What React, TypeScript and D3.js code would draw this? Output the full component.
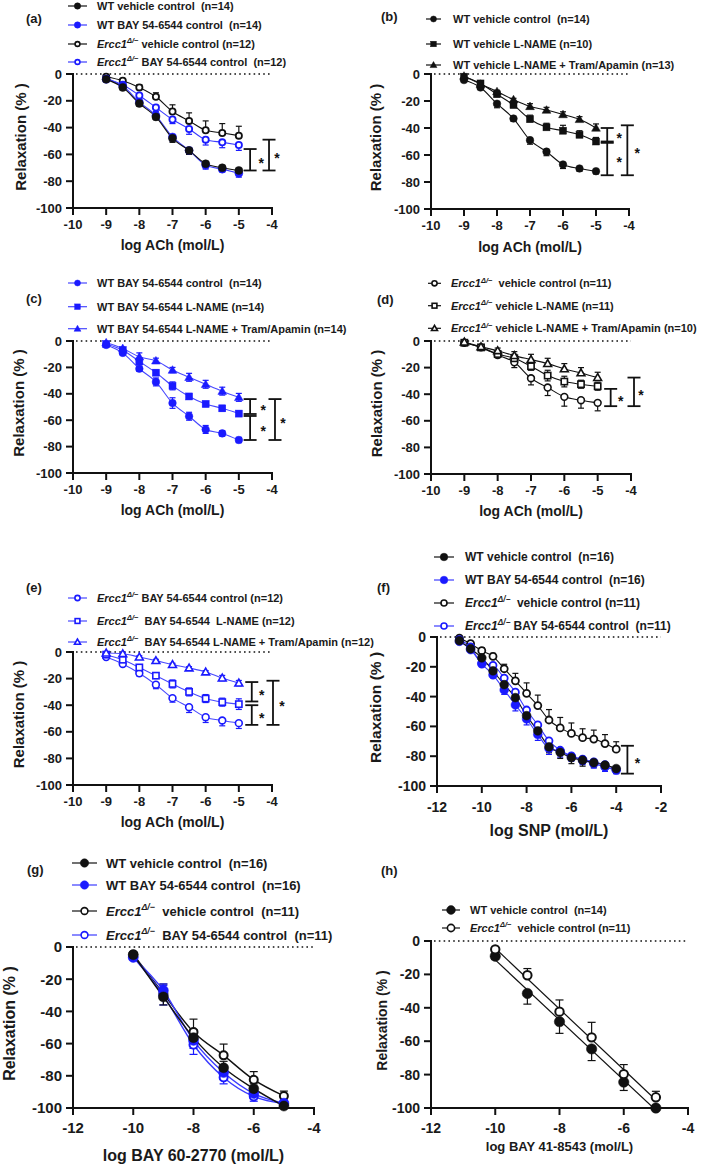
import React from 'react';
import * as d3 from 'd3';

const FONT = '"Liberation Sans", Arial, Helvetica, sans-serif';
const BLACK = '#111111';
const BLUE = '#1a1aff';
const BLUE2 = '#3b3bff';
const TEXT = '#1a1a1a';

// ---------- data ----------
const xAch = [-9, -8.5, -8, -7.5, -7, -6.5, -6, -5.5, -5];
const xSnp = [-11, -10.5, -10, -9.5, -9, -8.5, -8, -7.5, -7, -6.5, -6, -5.5, -5, -4.5, -4];
const xBay60 = [-10, -9, -8, -7, -6, -5];
const xBay41 = [-10, -9, -8, -7, -6, -5];

const ticksAch = [-10, -9, -8, -7, -6, -5, -4];
const ticksSnp = [-12, -10, -8, -6, -4, -2];
const ticksBay = [-12, -10, -8, -6, -4];
const ticksY = [0, -20, -40, -60, -80, -100];

// (a)
const aWtVeh = [-4, -10, -22, -32, -48, -57, -67, -70, -72];
const aWtVehErr = [1, 1, 2, 2, 3, 3, 3, 2, 2];
const aWtBay = [-4, -9, -21, -31, -47, -57, -68, -71, -74];
const aWtBayErr = [1, 1, 2, 2, 3, 3, 3, 2, 3];
const aErVeh = [-2, -5, -10, -17, -28, -35, -42, -44, -46];
const aErVehErr = [1, 1, 2, 3, 5, 6, 7, 7, 7];
const aErBay = [-3.5, -8, -16, -25, -34, -41, -49, -51, -53];
const aErBayErr = [1, 1, 2, 3, 3, 4, 4, 4, 4];
// (b)
const bWtVeh = [-4.5, -10, -22, -33, -49, -57.5, -67, -70, -72];
const bWtVehErr = [1, 1, 3, 2, 3, 3, 3, 2, 2];
const bLname = [-2, -7, -15, -23, -33.5, -39.5, -42, -45, -50];
const bLnameErr = [1, 1, 2, 2, 3, 3, 4, 3, 3];
const bTram = [-1.5, -7.5, -13, -19, -24, -26.7, -30, -33.6, -40];
const bTramErr = [0.5, 1, 1, 1, 2, 2, 2, 2, 3];
// (c)
const cBay = [-3, -9, -21, -31, -47, -57, -67, -70, -75];
const cBayErr = [1, 1, 2, 3, 4, 3, 3, 2, 2];
const cLname = [-2.3, -7, -15.5, -24, -34, -42, -47.7, -51, -55];
const cLnameErr = [1, 1, 2, 2, 3, 2, 2, 2, 2];
const cTram = [-1.3, -5.6, -12, -15, -22, -27.5, -32.8, -38, -42.7];
const cTramErr = [1, 1, 3, 2, 2, 3, 3, 3, 3];
// (d)
const dVeh = [-1.3, -4.8, -10.5, -16, -28, -35, -42, -44.5, -46.5];
const dVehErr = [1, 1, 2, 4, 5, 6, 7, 6, 6];
const dLname = [-1.3, -4.8, -9.8, -13, -19, -26, -30.5, -32.5, -34];
const dLnameErr = [1, 1, 2, 3, 3, 4, 4, 3, 3];
const dTram = [-0.8, -4.3, -7.3, -11, -14, -17, -21, -24, -27.5];
const dTramErr = [1, 1, 2, 3, 4, 4, 4, 4, 4];
// (e)
const eBay = [-3.8, -9, -16, -24.6, -34.7, -41.5, -49, -51.5, -53.5];
const eBayErr = [1, 1, 2, 3, 3, 4, 4, 4, 4];
const eLname = [-2, -5.8, -11.6, -17.8, -24, -30, -35, -37.7, -39.2];
const eLnameErr = [1, 1, 2, 2, 3, 3, 3, 3, 4];
const eTram = [-0.8, -1.3, -3.8, -6.5, -9.5, -12, -15, -19.6, -23.4];
const eTramErr = [1, 1, 1, 1, 1, 1, 1, 2, 2];
// (f)
const fWtVeh = [-2.5, -7.9, -14, -22.7, -32, -40.7, -52.8, -63, -73.7, -77.5, -81, -82.7, -84.3, -86, -88.3];
const fWtVehErr = [1, 1, 2, 2, 3, 3, 4, 4, 4, 4, 4, 4, 3, 3, 3];
const fWtBay = [-2.9, -8.5, -18, -25.4, -35.5, -45.6, -55, -65.4, -74.8, -76.6, -80.4, -82.7, -85, -87.2, -89.4];
const fWtBayErr = [1, 1, 2, 2, 3, 4, 4, 4, 4, 4, 3, 3, 3, 3, 2];
const fErVeh = [-0.7, -4.5, -9.2, -13, -21.3, -29.4, -37.8, -46, -55.7, -61, -64.7, -67.6, -68.5, -71.5, -75.3];
const fErVehErr = [1, 1, 2, 2, 3, 5, 7, 7, 7, 7, 7, 6, 6, 6, 5];
const fErBay = [-1.8, -6.7, -17.5, -19, -27.6, -37, -49, -59, -69.7, -76, -79.8, -82, -83.8, -85.6, -88.8];
const fErBayErr = [1, 1, 2, 2, 3, 4, 4, 4, 3, 3, 3, 3, 3, 3, 3];
// (g)
const gWtVeh = [-4.8, -31, -56.3, -75, -88, -98.8];
const gWtVehErr = [1, 5, 5, 4, 3, 2];
const gWtBay = [-6.5, -27, -58, -78, -91, -97];
const gWtBayErr = [1, 4, 5, 4, 3, 2];
const gErVeh = [-4.6, -29, -52.8, -67.3, -82.4, -92.5];
const gErVehErr = [1, 6, 8, 7, 5, 3];
const gErBay = [-6.2, -30, -60.7, -81, -92.8, -97.3];
const gErBayErr = [1, 6, 6, 4, 3, 2];
// (h)
const hWt = [-9.1, -31.4, -48.3, -64.6, -84.5, -100];
const hWtErr = [2, 6.4, 7, 7, 5, 1];
const hEr = [-5, -20.5, -42.3, -57.7, -79.7, -93.6];
const hErErr = [1, 4, 7, 9, 5.7, 3.6];

// ---------- types ----------
type Shape = 'circle' | 'square' | 'triangle';
type Dir = 'up' | 'down' | 'both';
interface Series {
  label: string; ercc: boolean; color: string; shape: Shape; filled: boolean;
  x: number[]; y: number[]; err: number[]; dir: Dir;
}
interface Bracket { x: number; y1: number; y2: number; starDx: number }
interface Legend { lx1: number; lx2: number; tx: number; ys: number[]; fs: number; r: number; order: number[] }
interface Panel {
  tag: string; tagX: number; tagY: number;
  x0: number; x1: number; y0: number; y1: number;
  domain: [number, number]; ticks: number[]; xTitle: string;
  series: Series[]; brackets: Bracket[]; legend: Legend;
  tickFs: number; titleFs: number; yTitleFs: number; yTitleDx: number;
  xTickDy: number; xTitleDy: number; r: number; sw: number; lw: number; lineColorBlue: string; fit: 'curve' | 'linear';
}

const S = (label: string, ercc: boolean, color: string, shape: Shape, filled: boolean,
  x: number[], y: number[], err: number[], dir: Dir): Series => ({ label, ercc, color, shape, filled, x, y, err, dir });

const panels: Panel[] = [
  {
    tag: '(a)', tagX: 26, tagY: 18, x0: 73, x1: 272, y0: 74, y1: 208,
    domain: [-10, -4], ticks: ticksAch, xTitle: 'log ACh (mol/L)',
    series: [
      S('vehicle control (n=12)', true, BLACK, 'circle', false, xAch, aErVeh, aErVehErr, 'up'),
      S('BAY 54-6544 control  (n=12)', true, BLUE, 'circle', false, xAch, aErBay, aErBayErr, 'down'),
      S('WT BAY 54-6544 control  (n=14)', false, BLUE, 'circle', true, xAch, aWtBay, aWtBayErr, 'down'),
      S('WT vehicle control  (n=14)', false, BLACK, 'circle', true, xAch, aWtVeh, aWtVehErr, 'down'),
    ],
    brackets: [{ x: -4.66, y1: -56, y2: -72, starDx: 11 }, { x: -4.09, y1: -49, y2: -72, starDx: 8 }],
    legend: { lx1: 68, lx2: 87, tx: 97, ys: [6, 25, 44, 62], fs: 11, r: 3.2, order: [3, 2, 0, 1] },
    tickFs: 13, titleFs: 14, yTitleFs: 15, yTitleDx: -52, xTickDy: 16, xTitleDy: 37, r: 4, sw: 1.8, lw: 1.1, lineColorBlue: BLUE2, fit: 'curve',
  },
  {
    tag: '(b)', tagX: 381, tagY: 16, x0: 431, x1: 629, y0: 74, y1: 209,
    domain: [-10, -4], ticks: ticksAch, xTitle: 'log ACh (mol/L)',
    series: [
      S('WT vehicle control  (n=14)', false, BLACK, 'circle', true, xAch, bWtVeh, bWtVehErr, 'down'),
      S('WT vehicle L-NAME (n=10)', false, BLACK, 'square', true, xAch, bLname, bLnameErr, 'up'),
      S('WT vehicle L-NAME + Tram/Apamin (n=13)', false, BLACK, 'triangle', true, xAch, bTram, bTramErr, 'up'),
    ],
    brackets: [
      { x: -4.66, y1: -40, y2: -50, starDx: 12 },
      { x: -4.66, y1: -51, y2: -75, starDx: 12 },
      { x: -4.05, y1: -38, y2: -75, starDx: 10 },
    ],
    legend: { lx1: 426, lx2: 441, tx: 453, ys: [19, 44, 65], fs: 11, r: 3, order: [0, 1, 2] },
    tickFs: 13, titleFs: 14, yTitleFs: 15, yTitleDx: -55, xTickDy: 16, xTitleDy: 38, r: 3.8, sw: 1.8, lw: 1.1, lineColorBlue: BLUE2, fit: 'curve',
  },
  {
    tag: '(c)', tagX: 26, tagY: 298, x0: 73, x1: 272, y0: 341, y1: 473,
    domain: [-10, -4], ticks: ticksAch, xTitle: 'log ACh (mol/L)',
    series: [
      S('WT BAY 54-6544 control  (n=14)', false, BLUE, 'circle', true, xAch, cBay, cBayErr, 'both'),
      S('WT BAY 54-6544 L-NAME (n=14)', false, BLUE, 'square', true, xAch, cLname, cLnameErr, 'both'),
      S('WT BAY 54-6544 L-NAME + Tram/Apamin (n=14)', false, BLUE, 'triangle', true, xAch, cTram, cTramErr, 'both'),
    ],
    brackets: [
      { x: -4.66, y1: -44, y2: -55.3, starDx: 13 },
      { x: -4.66, y1: -56.8, y2: -75, starDx: 13 },
      { x: -3.91, y1: -44, y2: -75, starDx: 8 },
    ],
    legend: { lx1: 68, lx2: 87, tx: 97, ys: [283, 306.7, 328.7], fs: 11, r: 3, order: [0, 1, 2] },
    tickFs: 13, titleFs: 14, yTitleFs: 15, yTitleDx: -54, xTickDy: 16, xTitleDy: 37, r: 3.8, sw: 1.8, lw: 1.1, lineColorBlue: '#4848ff', fit: 'curve',
  },
  {
    tag: '(d)', tagX: 377, tagY: 299, x0: 431, x1: 631, y0: 341, y1: 474,
    domain: [-10, -4], ticks: ticksAch, xTitle: 'log ACh (mol/L)',
    series: [
      S(' vehicle control (n=11)', true, BLACK, 'circle', false, xAch, dVeh, dVehErr, 'down'),
      S('vehicle L-NAME (n=11)', true, BLACK, 'square', false, xAch, dLname, dLnameErr, 'both'),
      S('vehicle L-NAME + Tram/Apamin (n=10)', true, BLACK, 'triangle', false, xAch, dTram, dTramErr, 'up'),
    ],
    brackets: [
      { x: -4.61, y1: -36, y2: -49, starDx: 10 },
      { x: -3.91, y1: -27.5, y2: -49, starDx: 7 },
    ],
    legend: { lx1: 428, lx2: 441, tx: 451, ys: [283.3, 305.7, 328.3], fs: 11, r: 3.4, order: [0, 1, 2] },
    tickFs: 13, titleFs: 14, yTitleFs: 15, yTitleDx: -54, xTickDy: 16, xTitleDy: 37, r: 4.2, sw: 1.6, lw: 1.1, lineColorBlue: BLUE2, fit: 'curve',
  },
  {
    tag: '(e)', tagX: 26, tagY: 587, x0: 73, x1: 272, y0: 652, y1: 785,
    domain: [-10, -4], ticks: ticksAch, xTitle: 'log ACh (mol/L)',
    series: [
      S('BAY 54-6544 control (n=12)', true, BLUE, 'circle', false, xAch, eBay, eBayErr, 'down'),
      S(' BAY 54-6544  L-NAME (n=12)', true, BLUE, 'square', false, xAch, eLname, eLnameErr, 'both'),
      S(' BAY 54-6544 L-NAME + Tram/Apamin (n=12)', true, BLUE, 'triangle', false, xAch, eTram, eTramErr, 'both'),
    ],
    brackets: [
      { x: -4.61, y1: -22.6, y2: -37.2, starDx: 10 },
      { x: -4.61, y1: -40, y2: -54.8, starDx: 10 },
      { x: -3.97, y1: -21.6, y2: -54.8, starDx: 9 },
    ],
    legend: { lx1: 68, lx2: 87, tx: 97, ys: [598, 621, 642], fs: 11, r: 3.4, order: [0, 1, 2] },
    tickFs: 13, titleFs: 14, yTitleFs: 15, yTitleDx: -54, xTickDy: 16, xTitleDy: 37, r: 4.2, sw: 1.6, lw: 1.1, lineColorBlue: '#4848ff', fit: 'curve',
  },
  {
    tag: '(f)', tagX: 377, tagY: 587, x0: 437, x1: 661, y0: 637, y1: 786,
    domain: [-12, -2], ticks: ticksSnp, xTitle: 'log SNP (mol/L)',
    series: [
      S(' vehicle control (n=11)', true, BLACK, 'circle', false, xSnp, fErVeh, fErVehErr, 'up'),
      S('BAY 54-6544 control  (n=11)', true, BLUE, 'circle', false, xSnp, fErBay, fErBayErr, 'down'),
      S('WT BAY 54-6544 control  (n=16)', false, BLUE, 'circle', true, xSnp, fWtBay, fWtBayErr, 'down'),
      S('WT vehicle control  (n=16)', false, BLACK, 'circle', true, xSnp, fWtVeh, fWtVehErr, 'down'),
    ],
    brackets: [{ x: -3.5, y1: -73, y2: -91.7, starDx: 10 }],
    legend: { lx1: 434, lx2: 454, tx: 465, ys: [557, 580, 603, 626], fs: 12, r: 3.8, order: [3, 2, 0, 1] },
    tickFs: 14, titleFs: 16, yTitleFs: 15.5, yTitleDx: -62, xTickDy: 21, xTitleDy: 44, r: 4.4, sw: 1.8, lw: 1.1, lineColorBlue: BLUE2, fit: 'curve',
  },
  {
    tag: '(g)', tagX: 27, tagY: 869, x0: 73, x1: 314, y0: 947, y1: 1108,
    domain: [-12, -4], ticks: ticksBay, xTitle: 'log BAY 60-2770 (mol/L)',
    series: [
      S(' vehicle control  (n=11)', true, BLACK, 'circle', false, xBay60, gErVeh, gErVehErr, 'up'),
      S(' BAY 54-6544 control  (n=11)', true, BLUE, 'circle', false, xBay60, gErBay, gErBayErr, 'both'),
      S('WT BAY 54-6544 control  (n=16)', false, BLUE, 'circle', true, xBay60, gWtBay, gWtBayErr, 'both'),
      S('WT vehicle control  (n=16)', false, BLACK, 'circle', true, xBay60, gWtVeh, gWtVehErr, 'both'),
    ],
    brackets: [],
    legend: { lx1: 72, lx2: 97, tx: 106, ys: [863, 885, 911, 935], fs: 13, r: 4.2, order: [3, 2, 0, 1] },
    tickFs: 15, titleFs: 16, yTitleFs: 16, yTitleDx: -64, xTickDy: 20, xTitleDy: 47, r: 5, sw: 2, lw: 1.4, lineColorBlue: BLUE2, fit: 'curve',
  },
  {
    tag: '(h)', tagX: 381, tagY: 870, x0: 431, x1: 688, y0: 941, y1: 1108,
    domain: [-12, -4], ticks: ticksBay, xTitle: 'log BAY 41-8543 (mol/L)',
    series: [
      S('WT vehicle control  (n=14)', false, BLACK, 'circle', true, xBay41, hWt, hWtErr, 'down'),
      S(' vehicle control (n=11)', true, BLACK, 'circle', false, xBay41, hEr, hErErr, 'up'),
    ],
    brackets: [],
    legend: { lx1: 442, lx2: 460, tx: 470, ys: [910, 928], fs: 11, r: 4.4, order: [0, 1] },
    tickFs: 14, titleFs: 13, yTitleFs: 14, yTitleDx: -49, xTickDy: 20, xTitleDy: 38, r: 5.2, sw: 2, lw: 1.2, lineColorBlue: BLUE2, fit: 'linear',
  },
];

// ---------- components ----------
function Marker({ shape, filled, color, cx, cy, r, sw }: { shape: Shape; filled: boolean; color: string; cx: number; cy: number; r: number; sw: number }) {
  const fill = filled ? color : '#ffffff';
  const rr = filled ? r : r - sw / 2;
  const w = filled ? 0.5 : sw;
  if (shape === 'circle') return <circle cx={cx} cy={cy} r={rr} fill={fill} stroke={color} strokeWidth={w} />;
  if (shape === 'square') {
    const q = rr * 0.92;
    return <rect x={cx - q} y={cy - q} width={q * 2} height={q * 2} fill={fill} stroke={color} strokeWidth={w} />;
  }
  const h = rr * 1.15;
  const p = `M${cx},${cy - h} L${cx - rr * 1.15},${cy + rr * 0.85} L${cx + rr * 1.15},${cy + rr * 0.85} Z`;
  return <path d={p} fill={fill} stroke={color} strokeWidth={w} strokeLinejoin="miter" />;
}

function Label({ s, x, y, fs }: { s: Series; x: number; y: number; fs: number }) {
  if (!s.ercc) {
    return <text x={x} y={y + fs * 0.36} fontSize={fs} fontWeight="bold" fill={TEXT} style={{ whiteSpace: 'pre' }}>{s.label}</text>;
  }
  return (
    <text x={x} y={y + fs * 0.36} fontSize={fs} fontWeight="bold" fill={TEXT} style={{ whiteSpace: 'pre' }}>
      <tspan fontStyle="italic">Ercc1</tspan>
      <tspan fontStyle="italic" fontSize={fs * 0.68} dy={-fs * 0.42}>{'\u0394/\u2212'}</tspan>
      <tspan dy={fs * 0.42}>{' ' + s.label}</tspan>
    </text>
  );
}

function PanelView({ p, idx }: { p: Panel; idx: number }) {
  const x = d3.scaleLinear().domain(p.domain).range([p.x0, p.x1]);
  const y = d3.scaleLinear().domain([0, -100]).range([p.y0, p.y1]);
  const clipId = `clip${idx}`;
  const cap = p.r > 4.5 ? 4 : 3;
  const lineColor = (s: Series) => (s.color === BLUE ? p.lineColorBlue : s.color);

  const lineGen = d3.line<[number, number]>().x(d => x(d[0])).y(d => y(d[1])).curve(d3.curveMonotoneX);

  const fitPath = (s: Series) => {
    if (p.fit === 'curve') return lineGen(s.x.map((v, i) => [v, s.y[i]] as [number, number])) || '';
    const mx = d3.mean(s.x) as number;
    const my = d3.mean(s.y) as number;
    const num = d3.sum(s.x.map((v, i) => (v - mx) * (s.y[i] - my)));
    const den = d3.sum(s.x.map(v => (v - mx) * (v - mx)));
    const b = num / den;
    const xa = s.x[0], xb = s.x[s.x.length - 1];
    return d3.line<[number, number]>().x(d => x(d[0])).y(d => y(d[1]))([[xa, my + b * (xa - mx)], [xb, my + b * (xb - mx)]]) || '';
  };

  const yMid = (p.y0 + p.y1) / 2 - 4;
  const yTitleX = p.x0 + p.yTitleDx;

  return (
    <g fontFamily={FONT}>
      <defs>
        <clipPath id={clipId}>
          <rect x={p.x0 - 10} y={p.y0 - 20} width={p.x1 - p.x0 + 20} height={p.y1 - p.y0 + 20} />
        </clipPath>
      </defs>
      <text x={p.tagX} y={p.tagY + 4.6} fontSize={13} fontWeight="bold" fill={TEXT}>{p.tag}</text>

      {p.legend.order.map((si, k) => {
        const s = p.series[si];
        const ly = p.legend.ys[k];
        const mx = (p.legend.lx1 + p.legend.lx2) / 2;
        return (
          <g key={'lg' + k}>
            <line x1={p.legend.lx1} x2={p.legend.lx2} y1={ly} y2={ly} stroke={lineColor(s)} strokeWidth={1.2} />
            <Marker shape={s.shape} filled={s.filled} color={s.color} cx={mx} cy={ly} r={p.legend.r} sw={1.6} />
            <Label s={s} x={p.legend.tx} y={ly} fs={p.legend.fs} />
          </g>
        );
      })}

      <line x1={p.x0 + 3} x2={p.x1} y1={y(0)} y2={y(0)} stroke={BLACK} strokeWidth={1.6} strokeDasharray="1.6 3.2" />

      <line x1={p.x0} x2={p.x0} y1={p.y0 - 1} y2={p.y1 + 1} stroke={BLACK} strokeWidth={2} />
      <line x1={p.x0 - 1} x2={p.x1 + 1} y1={p.y1} y2={p.y1} stroke={BLACK} strokeWidth={2} />
      {ticksY.map(t => (
        <g key={'yt' + t}>
          <line x1={p.x0 - 7} x2={p.x0} y1={y(t)} y2={y(t)} stroke={BLACK} strokeWidth={2} />
          <text x={p.x0 - 11} y={y(t) + p.tickFs * 0.36} fontSize={p.tickFs} fontWeight="bold" textAnchor="end" fill={TEXT}>{t}</text>
        </g>
      ))}
      {p.ticks.map(t => (
        <g key={'xt' + t}>
          <line x1={x(t)} x2={x(t)} y1={p.y1} y2={p.y1 + 7} stroke={BLACK} strokeWidth={2} />
          <text x={x(t)} y={p.y1 + p.xTickDy + p.tickFs * 0.36} fontSize={p.tickFs} fontWeight="bold" textAnchor="middle" fill={TEXT}>{t}</text>
        </g>
      ))}
      <text x={(p.x0 + p.x1) / 2} y={p.y1 + p.xTitleDy + p.titleFs * 0.36} fontSize={p.titleFs} fontWeight="bold" textAnchor="middle" fill={TEXT}>{p.xTitle}</text>
      <text transform={`translate(${yTitleX},${yMid}) rotate(-90)`} y={p.yTitleFs * 0.36} fontSize={p.yTitleFs} fontWeight="bold" textAnchor="middle" fill={TEXT} style={{ whiteSpace: 'pre' }}>{'Relaxation (% )'}</text>

      <g clipPath={`url(#${clipId})`}>
        {p.series.map((s, i) => (
          <path key={'c' + i} d={fitPath(s)} fill="none" stroke={lineColor(s)} strokeWidth={p.lw} />
        ))}
      </g>
      {p.series.map((s, i) => (
        <g key={'e' + i} stroke={s.color} strokeWidth={1.2}>
          {s.x.map((xv, j) => {
            const v = s.y[j], e = s.err[j];
            const hi = s.dir === 'down' ? v : Math.min(0, v + e);
            const lo = s.dir === 'up' ? v : Math.max(-100, v - e);
            const px = x(xv);
            return (
              <g key={j}>
                <line x1={px} x2={px} y1={y(hi)} y2={y(lo)} />
                {s.dir !== 'down' && <line x1={px - cap} x2={px + cap} y1={y(hi)} y2={y(hi)} />}
                {s.dir !== 'up' && <line x1={px - cap} x2={px + cap} y1={y(lo)} y2={y(lo)} />}
              </g>
            );
          })}
        </g>
      ))}
      {p.series.map((s, i) => (
        <g key={'m' + i}>
          {s.x.map((xv, j) => (
            <Marker key={j} shape={s.shape} filled={s.filled} color={s.color} cx={x(xv)} cy={y(s.y[j])} r={p.r} sw={p.sw} />
          ))}
        </g>
      ))}
      {p.brackets.map((b, i) => {
        const bx = x(b.x);
        const ya = y(b.y1), yb = y(b.y2);
        const mid = (ya + yb) / 2;
        return (
          <g key={'b' + i} stroke={BLACK} strokeWidth={1.8}>
            <line x1={bx} x2={bx} y1={ya} y2={yb} />
            <line x1={bx - 6.5} x2={bx + 6.5} y1={ya} y2={ya} />
            <line x1={bx - 6.5} x2={bx + 6.5} y1={yb} y2={yb} />
            <text x={bx + b.starDx} y={mid + 14 * 0.58} fontSize={14} fontWeight="bold" textAnchor="middle" fill={BLACK} stroke="none">*</text>
          </g>
        );
      })}
    </g>
  );
}

export default function App() {
  return (
    <svg width={709} height={1165} viewBox="0 0 709 1165" style={{ position: 'absolute', left: 0, top: 0, background: '#fff' }}>
      <rect x={0} y={0} width={709} height={1165} fill="#ffffff" />
      {panels.map((p, i) => <PanelView key={i} p={p} idx={i} />)}
    </svg>
  );
}
